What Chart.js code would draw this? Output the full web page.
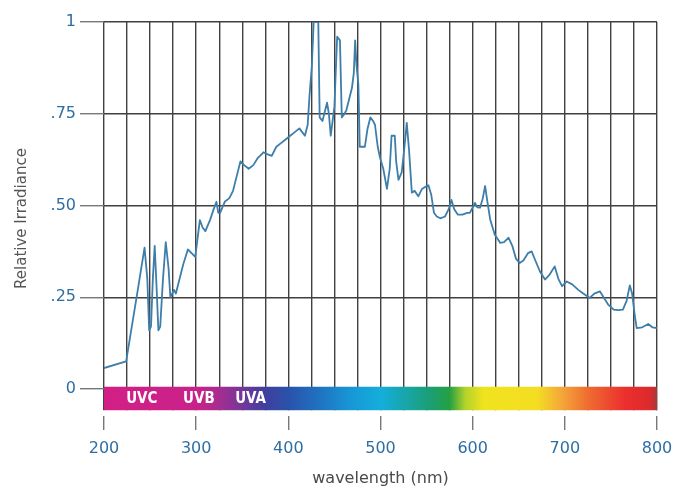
<!DOCTYPE html>
<html lang="en">
<head>
    <meta charset="UTF-8">
    <title>Relative Irradiance</title>
    <script src="https://cdn.jsdelivr.net/npm/chart.js@4.4.8/dist/chart.umd.min.js"></script>
    <style>
        body { margin: 0; background: #fff; }
    </style>
</head>
<body>
<canvas id="spectrumChart" width="691" height="490"></canvas>

<script>
    // wavelength in nm
    const wavelengths = [
        200, 224, 236, 244, 247, 249, 251, 253, 255, 257, 259, 261, 264, 267, 270, 272, 276, 278, 281, 286,
        291, 295, 299, 302, 304, 307, 310, 315, 319, 322, 324, 326, 331, 336, 340, 344, 348, 352, 357, 362,
        367, 373, 377, 382, 387, 392, 397, 402, 407, 412, 415, 418, 421, 423, 425.5, 427.5, 432.5, 434, 437, 440,
        442, 444, 446, 448, 450, 452, 453, 456, 458, 461, 463, 466, 469, 471, 472.5, 474, 476, 477.5, 483, 486,
        489, 492, 494, 497, 499.5, 503, 507, 510, 512, 515.5, 517, 519.5, 523, 526, 528.5, 531, 534, 537, 541, 545,
        548, 552, 555, 558, 561, 565, 570, 574, 577, 580, 584, 589, 594, 597, 600, 602.5, 605, 608, 611, 613.5,
        616, 619, 624, 630, 634, 639, 643, 647, 651, 655, 660, 664, 668, 673, 678.5, 683, 689, 693, 697, 702,
        708, 714.6, 720, 727, 732, 738, 742, 747, 753, 758, 763, 767, 770.5, 773, 776, 778, 784, 790.5, 795, 800
    ];
    const irradiance = [
        0.057, 0.075, 0.26, 0.385, 0.30, 0.16, 0.17, 0.30, 0.39, 0.28, 0.16, 0.17, 0.30, 0.40, 0.33, 0.25, 0.27, 0.26, 0.29, 0.34,
        0.38, 0.37, 0.36, 0.42, 0.46, 0.44, 0.43, 0.46, 0.49, 0.51, 0.48, 0.48, 0.51, 0.52, 0.54, 0.58, 0.62, 0.61, 0.60, 0.61,
        0.63, 0.645, 0.64, 0.635, 0.66, 0.67, 0.68, 0.69, 0.70, 0.71, 0.70, 0.69, 0.72, 0.80, 0.88, 1.0, 1.0, 0.74, 0.73, 0.76,
        0.78, 0.75, 0.69, 0.73, 0.77, 0.90, 0.96, 0.95, 0.74, 0.75, 0.76, 0.79, 0.82, 0.86, 0.95, 0.88, 0.83, 0.66, 0.66, 0.71,
        0.74, 0.73, 0.72, 0.66, 0.63, 0.60, 0.545, 0.60, 0.69, 0.69, 0.62, 0.57, 0.59, 0.66, 0.725, 0.65, 0.535, 0.54, 0.525, 0.545,
        0.55, 0.555, 0.53, 0.48, 0.47, 0.465, 0.47, 0.49, 0.515, 0.49, 0.475, 0.475, 0.48, 0.48, 0.495, 0.507, 0.495, 0.494, 0.52, 0.553,
        0.51, 0.462, 0.42, 0.398, 0.40, 0.412, 0.39, 0.355, 0.343, 0.35, 0.37, 0.375, 0.35, 0.32, 0.298, 0.31, 0.334, 0.30, 0.28, 0.293,
        0.285, 0.27, 0.26, 0.248, 0.26, 0.266, 0.25, 0.23, 0.216, 0.215, 0.216, 0.24, 0.282, 0.26, 0.198, 0.166, 0.168, 0.177, 0.168, 0.166
    ];
    const yTicks = [0, 0.25, 0.5, 0.75, 1];
    const bandNames = ['UVC', 'UVB', 'UVA'];
    const bandCenters = [241, 303, 359];

    const points = wavelengths.map((w, i) => ({x: w, y: irradiance[i]}));

    // rainbow strip under the plot, drawn in wavelength units
    const spectrumBar = {
        id: 'spectrumBar',
        beforeDatasetsDraw(chart) {
            const {ctx, chartArea, scales: {x, y}} = chart;
            const top = y.getPixelForValue(0.006);
            const bottom = y.getPixelForValue(-0.058);
            const left = x.getPixelForValue(200);
            const right = x.getPixelForValue(800);

            ctx.save();
            ctx.fillStyle = '#fff';
            ctx.fillRect(left - 2, bottom, right - left + 4, chartArea.bottom - bottom + 1);

            const stops = [
                [200, '#d21f86'], [300, '#c8228a'], [320, '#b02a8e'], [345, '#7e3598'],
                [375, '#3f3f9e'], [400, '#2a52aa'], [435, '#1f74c2'], [470, '#1799d6'],
                [500, '#14aedb'], [525, '#17a6ae'], [555, '#1b9e72'], [575, '#25a042'],
                [592, '#b4d22a'], [612, '#f0e31e'], [670, '#f4dd22'], [698, '#f4a43a'],
                [725, '#ef6c30'], [765, '#ec2f2e'], [792, '#dd2a2c'], [800, '#a8383a']
            ];
            const grad = ctx.createLinearGradient(left, 0, right, 0);
            stops.forEach(([w, c]) => grad.addColorStop((w - 200) / 600, c));
            ctx.fillStyle = grad;
            ctx.fillRect(left, top, right - left, bottom - top);

            ctx.fillStyle = '#fff';
            ctx.font = 'bold 15px "DejaVu Sans Condensed", "Liberation Sans Narrow", sans-serif';
            ctx.textAlign = 'center';
            ctx.textBaseline = 'middle';
            bandNames.forEach((name, i) => {
                ctx.fillText(name, x.getPixelForValue(bandCenters[i]), (top + bottom) / 2 + 1);
            });
            ctx.restore();
        }
    };

    Chart.defaults.font.family = '"DejaVu Sans", sans-serif';

    const chart = new Chart(document.getElementById('spectrumChart').getContext('2d'), {
        type: 'line',
        data: {
            datasets: [{
                data: points,
                borderColor: '#3d7eaa',
                borderWidth: 1.8,
                borderJoinStyle: 'round',
                pointRadius: 0,
                fill: false,
                tension: 0
            }]
        },
        options: {
            responsive: false,
            animation: false,
            layout: {padding: {top: 22, right: 34, left: 0, bottom: 0}},
            plugins: {legend: {display: false}, tooltip: {enabled: false}},
            scales: {
                x: {
                    type: 'linear',
                    min: 200,
                    max: 800,
                    border: {display: false},
                    grid: {
                        color: '#404040',
                        lineWidth: 1.4,
                        tickLength: 15,
                        tickColor: ctx => ctx.tick && ctx.tick.value % 100 === 0 ? '#777' : 'rgba(0,0,0,0)'
                    },
                    ticks: {
                        stepSize: 25,
                        autoSkip: false,
                        maxRotation: 0,
                        padding: 9,
                        color: '#2f6ea3',
                        font: {size: 16},
                        callback: v => v % 100 === 0 ? v : ''
                    },
                    title: {
                        display: true,
                        text: 'wavelength (nm)',
                        color: '#4a4a4a',
                        font: {size: 16},
                        padding: {top: 0, bottom: 2}
                    },
                    afterFit: s => { s.height = 75; }
                },
                y: {
                    min: -0.071,
                    max: 1,
                    border: {display: false},
                    afterBuildTicks: s => { s.ticks = yTicks.map(v => ({value: v})); },
                    grid: {
                        color: '#404040',
                        lineWidth: 1.4,
                        tickLength: 24,
                        tickColor: '#777'
                    },
                    ticks: {
                        padding: 4,
                        color: '#2f6ea3',
                        font: {size: 16},
                        callback: v => v === 0 ? '0' : v === 1 ? '1' : '.' + Math.round(v * 100)
                    },
                    title: {
                        display: true,
                        text: 'Relative Irradiance',
                        color: '#555',
                        font: {size: 15},
                        padding: {top: 13, bottom: 0}
                    },
                    afterFit: s => { s.width = 104; }
                }
            }
        },
        plugins: [spectrumBar]
    });
</script>
</body>
</html>
